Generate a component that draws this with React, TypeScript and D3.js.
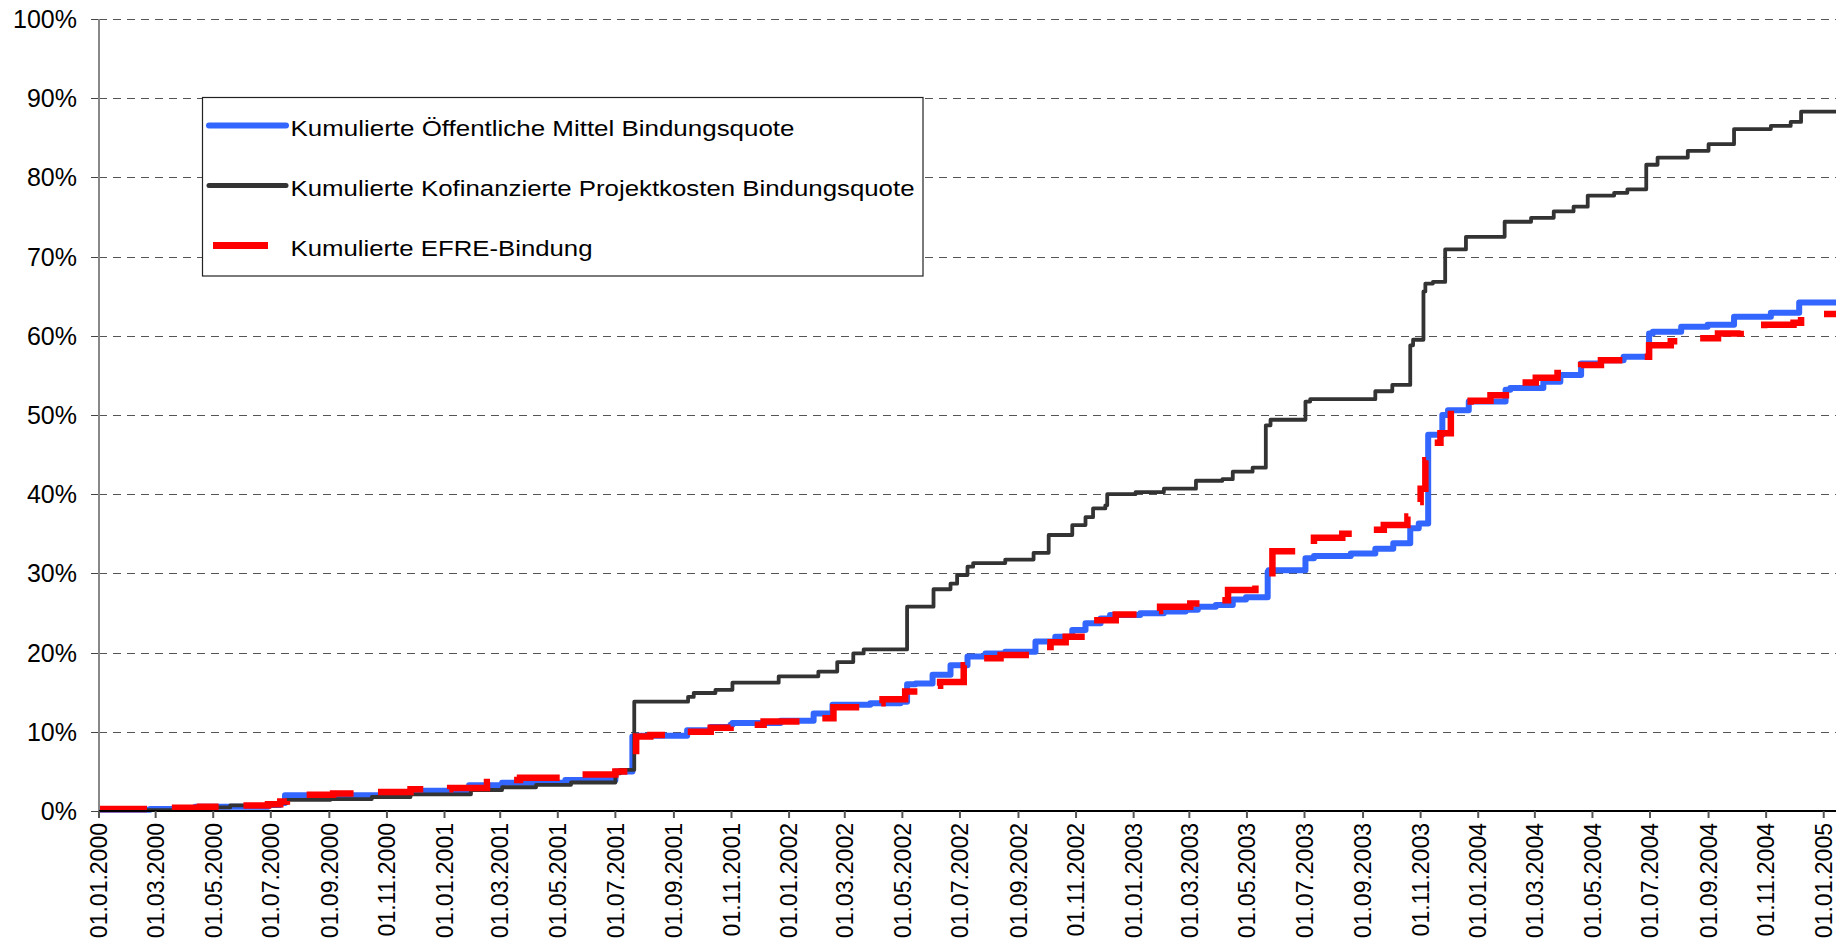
import React from "react";
import * as d3 from "d3";

// ---- data ----
const yTicks = [0, 10, 20, 30, 40, 50, 60, 70, 80, 90, 100];
const xStart = "2000-01-01";
const xEnd = "2005-01-14";

const seriesNames = [
  "Kumulierte Öffentliche Mittel Bindungsquote",
  "Kumulierte Kofinanzierte Projektkosten Bindungsquote",
  "Kumulierte EFRE-Bindung",
];

const oeffentlicheMittel: [string, number][] = [
  ["2000-01-01", 0.15], ["2000-02-24", 0.25], ["2000-04-12", 0.55], ["2000-06-28", 0.75],
  ["2000-07-11", 1.0], ["2000-07-16", 2.0], ["2000-10-28", 2.35], ["2000-11-26", 2.56],
  ["2001-01-27", 3.24], ["2001-03-03", 3.57], ["2001-05-09", 3.9], ["2001-07-01", 5.0],
  ["2001-07-19", 9.4], ["2001-07-24", 9.5], ["2001-09-15", 10.2], ["2001-10-10", 10.6],
  ["2001-10-31", 10.9], ["2001-11-02", 11.1], ["2001-12-23", 11.4], ["2002-01-27", 12.3],
  ["2002-02-16", 13.4], ["2002-03-28", 13.6], ["2002-04-29", 13.8], ["2002-05-06", 16.0],
  ["2002-05-15", 16.1], ["2002-06-02", 17.2], ["2002-06-21", 18.4], ["2002-07-09", 19.5],
  ["2002-07-28", 19.9], ["2002-08-18", 20.1], ["2002-09-19", 21.4], ["2002-10-10", 22.0],
  ["2002-10-28", 22.85], ["2002-11-11", 23.7], ["2002-11-27", 24.3], ["2002-12-07", 24.75],
  ["2003-01-08", 24.96], ["2003-02-02", 25.2], ["2003-02-25", 25.4], ["2003-03-10", 25.8],
  ["2003-03-29", 26.0], ["2003-04-16", 26.7], ["2003-04-30", 27.0], ["2003-05-23", 30.2],
  ["2003-05-24", 30.4], ["2003-07-02", 31.9], ["2003-07-11", 32.2], ["2003-08-19", 32.5],
  ["2003-09-14", 33.1], ["2003-10-03", 33.8], ["2003-10-21", 35.7], ["2003-10-30", 36.3],
  ["2003-11-09", 47.5], ["2003-11-24", 50.0], ["2003-11-30", 50.6], ["2003-12-22", 51.7],
  ["2004-01-30", 53.2], ["2004-02-04", 53.4], ["2004-03-10", 54.2], ["2004-03-28", 55.05],
  ["2004-04-19", 56.5], ["2004-05-10", 56.9], ["2004-06-03", 57.35], ["2004-06-30", 60.3],
  ["2004-07-04", 60.5], ["2004-08-03", 61.15], ["2004-08-31", 61.4], ["2004-09-28", 62.4],
  ["2004-11-06", 62.9], ["2004-12-06", 64.2], ["2005-01-14", 64.2],
];

const kofinanzierteProjektkosten: [string, number][] = [
  ["2000-01-01", 0.1], ["2000-03-27", 0.45], ["2000-05-19", 0.7], ["2000-07-07", 1.0],
  ["2000-07-18", 1.4], ["2000-09-02", 1.5], ["2000-10-16", 1.77], ["2000-11-26", 2.1],
  ["2001-01-29", 2.65], ["2001-03-03", 3.0], ["2001-04-08", 3.3], ["2001-05-15", 3.6],
  ["2001-07-01", 4.75], ["2001-07-06", 5.2], ["2001-07-21", 13.8], ["2001-09-16", 14.4],
  ["2001-09-22", 14.9], ["2001-10-15", 15.3], ["2001-11-02", 16.2], ["2001-12-21", 17.0],
  ["2002-02-01", 17.6], ["2002-02-21", 18.8], ["2002-03-10", 19.9], ["2002-03-21", 20.4],
  ["2002-05-06", 25.8], ["2002-06-03", 28.0], ["2002-06-21", 28.7], ["2002-06-28", 29.8],
  ["2002-07-09", 30.85], ["2002-07-15", 31.3], ["2002-08-18", 31.75], ["2002-09-17", 32.6],
  ["2002-10-03", 34.85], ["2002-10-28", 36.1], ["2002-11-11", 37.1], ["2002-11-19", 38.2],
  ["2002-12-02", 38.6], ["2002-12-04", 40.0], ["2003-01-03", 40.25], ["2003-02-02", 40.7],
  ["2003-03-08", 41.7], ["2003-04-05", 41.9], ["2003-04-16", 42.85], ["2003-05-07", 43.35],
  ["2003-05-21", 48.7], ["2003-05-26", 49.4], ["2003-07-02", 51.7], ["2003-07-07", 52.0],
  ["2003-09-14", 53.0], ["2003-10-02", 53.8], ["2003-10-21", 58.8], ["2003-10-24", 59.5],
  ["2003-11-04", 65.6], ["2003-11-06", 66.6], ["2003-11-14", 66.8], ["2003-11-27", 70.9],
  ["2003-12-19", 72.5], ["2004-01-29", 74.4], ["2004-02-26", 74.9], ["2004-03-21", 75.7],
  ["2004-04-11", 76.3], ["2004-04-26", 77.7], ["2004-05-24", 78.05], ["2004-06-07", 78.5],
  ["2004-06-27", 81.6], ["2004-07-09", 82.5], ["2004-08-10", 83.35], ["2004-09-01", 84.2],
  ["2004-09-28", 86.1], ["2004-11-06", 86.5], ["2004-11-27", 87.0], ["2004-12-08", 88.3],
  ["2005-01-14", 88.3],
];

const efreBindung: [string, number][] = [
  ["2000-01-01", 0.25], ["2000-03-16", 0.4], ["2000-04-17", 0.55], ["2000-05-29", 0.7],
  ["2000-06-28", 0.85], ["2000-07-11", 1.2], ["2000-07-18", 2.06], ["2000-09-05", 2.2],
  ["2000-10-14", 2.4], ["2000-11-26", 2.74], ["2001-01-07", 2.9], ["2001-02-15", 3.66],
  ["2001-03-06", 3.9], ["2001-03-22", 4.2], ["2001-05-07", 4.6], ["2001-07-01", 5.0],
  ["2001-07-15", 5.2], ["2001-07-19", 6.9], ["2001-07-23", 9.4], ["2001-08-07", 9.6],
  ["2001-09-15", 10.0], ["2001-10-10", 10.5], ["2001-10-31", 10.9], ["2001-12-05", 11.3],
  ["2002-01-13", 11.7], ["2002-02-17", 13.1], ["2002-03-18", 13.6], ["2002-04-10", 14.1],
  ["2002-05-04", 15.1], ["2002-05-25", 15.8], ["2002-06-10", 16.3], ["2002-07-05", 18.4],
  ["2002-07-17", 19.3], ["2002-08-13", 19.7], ["2002-09-17", 20.7], ["2002-10-05", 21.3],
  ["2002-10-21", 22.0], ["2002-11-16", 24.1], ["2002-12-13", 24.8], ["2003-01-05", 25.25],
  ["2003-01-29", 25.8], ["2003-03-02", 26.2], ["2003-03-20", 26.6], ["2003-04-11", 27.9],
  ["2003-05-10", 28.5], ["2003-05-21", 29.4], ["2003-05-28", 32.8], ["2003-06-27", 33.5],
  ["2003-07-11", 34.5], ["2003-08-10", 35.0], ["2003-09-09", 35.5], ["2003-09-23", 36.1],
  ["2003-10-18", 37.2], ["2003-10-27", 39.0], ["2003-11-01", 40.7], ["2003-11-06", 44.3],
  ["2003-11-14", 46.5], ["2003-11-22", 47.7], ["2003-12-03", 50.8], ["2003-12-24", 51.8],
  ["2004-01-14", 52.5], ["2004-02-04", 54.1], ["2004-03-02", 54.7], ["2004-03-25", 55.3],
  ["2004-04-19", 56.3], ["2004-05-10", 56.9], ["2004-06-03", 57.35], ["2004-06-30", 58.8],
  ["2004-07-23", 59.3], ["2004-08-15", 59.7], ["2004-09-11", 60.3], ["2004-10-05", 60.9],
  ["2004-10-30", 61.4], ["2004-11-30", 61.65], ["2004-12-08", 62.75], ["2005-01-14", 62.75],
];

// ---- layout ----
const W = 1836;
const H = 941;
const left = 99;
const right = 1836;
const top = 19;
const bottom = 811;
const FONT = "'Liberation Sans', Arial, Helvetica, sans-serif";

const parse = d3.utcParse("%Y-%m-%d");
const fmt = d3.utcFormat("%d.%m.%Y");

export default function App() {
  const x = d3.scaleUtc().domain([parse(xStart)!, parse(xEnd)!]).range([left, right]);
  const y = d3.scaleLinear().domain([0, 100]).range([bottom, top]);
  const xTicks = d3.utcMonth.every(2)!.range(parse(xStart)!, parse("2005-01-02")!);

  const line = d3
    .line<[string, number]>()
    .x((d) => x(parse(d[0])!))
    .y((d) => y(d[1]))
    .curve(d3.curveStepAfter);

  const legendTextLen = [504, 624, 302];

  return (
    <svg
      width={W}
      height={H}
      style={{ position: "absolute", left: 0, top: 0, display: "block", background: "#fff" }}
    >
      <defs>
        <clipPath id="plot">
          <rect x={left} y={0} width={right - left} height={bottom + 2} />
        </clipPath>
      </defs>
      <rect x={0} y={0} width={W} height={H} fill="#fff" />

      {/* gridlines */}
      {yTicks.map((t) =>
        t === 0 ? null : (
          <line
            key={"g" + t}
            x1={left}
            x2={right}
            y1={Math.round(y(t)) + 0.5}
            y2={Math.round(y(t)) + 0.5}
            stroke="#555"
            strokeWidth={1}
            strokeDasharray="8,6"
          />
        )
      )}

      {/* y ticks + labels */}
      {yTicks.map((t) => (
        <g key={"yt" + t}>
          <line x1={91} x2={left} y1={Math.round(y(t)) + 0.5} y2={Math.round(y(t)) + 0.5} stroke="#444" strokeWidth={1} />
          <text
            x={77}
            y={y(t)}
            dy="0.36em"
            textAnchor="end"
            fontFamily={FONT}
            fontSize={25}
            fill="#000"
          >
            {t + "%"}
          </text>
        </g>
      ))}

      {/* series */}
      <g clipPath="url(#plot)">
        <path d={line(oeffentlicheMittel) || ""} fill="none" stroke="#3366FF" strokeWidth={6} strokeLinejoin="round" />
        <path d={line(kofinanzierteProjektkosten) || ""} fill="none" stroke="#333333" strokeWidth={3.8} strokeLinejoin="round" />
        <path
          d={line(efreBindung) || ""}
          fill="none"
          stroke="#FF0000"
          strokeWidth={6.5}
          strokeDasharray="48,26"
          strokeLinejoin="miter"
        />
      </g>

      {/* axes */}
      <line x1={left} x2={left} y1={top} y2={bottom} stroke="#888" strokeWidth={2} />
      <line x1={left} x2={right} y1={bottom} y2={bottom} stroke="#000" strokeWidth={2} />

      {/* x ticks + labels */}
      {xTicks.map((d) => (
        <g key={"xt" + d.getTime()}>
          <line x1={x(d)} x2={x(d)} y1={bottom} y2={818} stroke="#555" strokeWidth={2} />
          <text
            transform={`translate(${x(d)},823) rotate(-90)`}
            dy="0.36em"
            textAnchor="end"
            fontFamily={FONT}
            fontSize={23}
            fill="#000"
          >
            {fmt(d)}
          </text>
        </g>
      ))}

      {/* legend */}
      <g>
        <rect x={202.5} y={97.5} width={720.5} height={178.5} fill="#fff" stroke="#222" strokeWidth={1.2} />
        <line x1={209} x2={286} y1={125.5} y2={125.5} stroke="#3366FF" strokeWidth={6} strokeLinecap="round" />
        <line x1={209} x2={286} y1={185.5} y2={185.5} stroke="#333333" strokeWidth={5} strokeLinecap="round" />
        <line x1={213} x2={268} y1={245.5} y2={245.5} stroke="#FF0000" strokeWidth={7} />
        {seriesNames.map((name, i) => (
          <text
            key={name}
            x={290.5}
            y={136}
            dy={i * 60}
            fontFamily={FONT}
            fontSize={22}
            fill="#000"
            textLength={legendTextLen[i]}
            lengthAdjust="spacingAndGlyphs"
          >
            {name}
          </text>
        ))}
      </g>
    </svg>
  );
}
